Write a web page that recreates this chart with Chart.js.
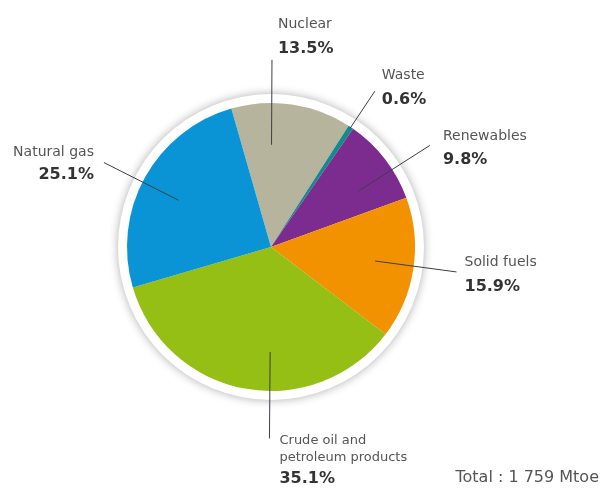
<!DOCTYPE html>
<html>
<head>
<meta charset="utf-8">
<title>Gross inland consumption by fuel</title>
<script src="https://cdn.jsdelivr.net/npm/chart.js@4"></script>
<style>
  html, body { margin: 0; padding: 0; background: #fff; }
  #wrap { position: relative; width: 603px; height: 493px; }
</style>
</head>
<body>
<div id="wrap"><canvas id="pieChart" width="603" height="493"></canvas></div>
<script>
// fuel shares, clockwise from the top
const categories = ["Nuclear", "Waste", "Renewables", "Solid fuels", "Crude oil and petroleum products", "Natural gas"];
const shares = [13.5, 0.6, 9.8, 15.9, 35.1, 25.1];
const nameLines = [["Nuclear"], ["Waste"], ["Renewables"], ["Solid fuels"], ["Crude oil and", "petroleum products"], ["Natural gas"]];
const totalText = "Total : 1 759 Mtoe";

const colors = ["#b6b49c", "#138a8c", "#7c2c8e", "#f39200", "#95bf14", "#0a94d6"];

// leader line + label placement around each slice
const labelLayout = [
    { nudge: -8, from: 0.71, to: 1.30, dx: 6,   nameY: -32, pctY: -7, align: "left" },
    { nudge: 0,  from: 0.99, to: 1.30, dx: 7,   nameY: -12, pctY: 13, align: "left" },
    { nudge: 5,  from: 0.72, to: 1.31, dx: 13,  nameY: -5,  pctY: 19, align: "left" },
    { nudge: -1, from: 0.73, to: 1.30, dx: 8,   nameY: -6,  pctY: 19, align: "left" },
    { nudge: -10, from: 0.73, to: 1.33, dx: 10, nameY: 5,   pctY: 44, align: "left", lineGap: 17, size: 13 },
    { nudge: -2, from: 0.72, to: 1.30, dx: -10, nameY: -7,  pctY: 16, align: "right" }
];

const FONT = "'DejaVu Sans', Verdana, sans-serif";

// white rim with a soft grey halo behind the pie
const rimPlugin = {
    id: "rim",
    beforeDatasetsDraw(chart) {
        const arc = chart.getDatasetMeta(0).data[0];
        if (!arc) return;
        const { x, y, outerRadius } = arc.getProps(["x", "y", "outerRadius"], true);
        const ctx = chart.ctx;
        ctx.save();
        ctx.shadowColor = "rgba(0, 0, 0, 0.32)";
        ctx.shadowBlur = 10;
        ctx.fillStyle = "#ffffff";
        ctx.beginPath();
        ctx.arc(x, y, outerRadius + 9, 0, Math.PI * 2);
        ctx.fill();
        ctx.restore();
    }
};

// leader lines, category names and percentages
const calloutPlugin = {
    id: "callouts",
    afterDatasetsDraw(chart) {
        const ctx = chart.ctx;
        const arcs = chart.getDatasetMeta(0).data;
        arcs.forEach((arc, i) => {
            const p = arc.getProps(["x", "y", "startAngle", "endAngle", "outerRadius"], true);
            const lay = labelLayout[i];
            const mid = (p.startAngle + p.endAngle) / 2 + lay.nudge * Math.PI / 180;
            const cx = Math.cos(mid), cy = Math.sin(mid);
            const x1 = p.x + cx * p.outerRadius * lay.from;
            const y1 = p.y + cy * p.outerRadius * lay.from;
            const x2 = p.x + cx * p.outerRadius * lay.to;
            const y2 = p.y + cy * p.outerRadius * lay.to;

            ctx.save();
            ctx.strokeStyle = "#3d3d4a";
            ctx.lineWidth = 1;
            ctx.beginPath();
            ctx.moveTo(x1, y1);
            ctx.lineTo(x2, y2);
            ctx.stroke();

            ctx.textAlign = lay.align;
            ctx.textBaseline = "alphabetic";
            ctx.fillStyle = "#555555";
            ctx.font = (lay.size || 14) + "px " + FONT;
            nameLines[i].forEach((line, k) => {
                ctx.fillText(line, x2 + lay.dx, y2 + lay.nameY + k * (lay.lineGap || 0));
            });
            ctx.fillStyle = "#333333";
            ctx.font = "bold 16px " + FONT;
            ctx.fillText(shares[i].toFixed(1) + "%", x2 + lay.dx, y2 + lay.pctY);
            ctx.restore();
        });

        ctx.save();
        ctx.fillStyle = "#555555";
        ctx.font = "16px " + FONT;
        ctx.textAlign = "right";
        ctx.fillText(totalText, 599, 482);
        ctx.restore();
    }
};

const ctx = document.getElementById("pieChart").getContext("2d");
new Chart(ctx, {
    type: "pie",
    data: {
        labels: categories,
        datasets: [{
            data: shares,
            backgroundColor: colors,
            borderWidth: 0
        }]
    },
    options: {
        responsive: false,
        animation: false,
        rotation: -16,
        layout: { padding: { left: 127, right: 188, top: 103, bottom: 102 } },
        plugins: {
            legend: { display: false },
            tooltip: { enabled: false }
        }
    },
    plugins: [rimPlugin, calloutPlugin]
});
</script>
</body>
</html>
